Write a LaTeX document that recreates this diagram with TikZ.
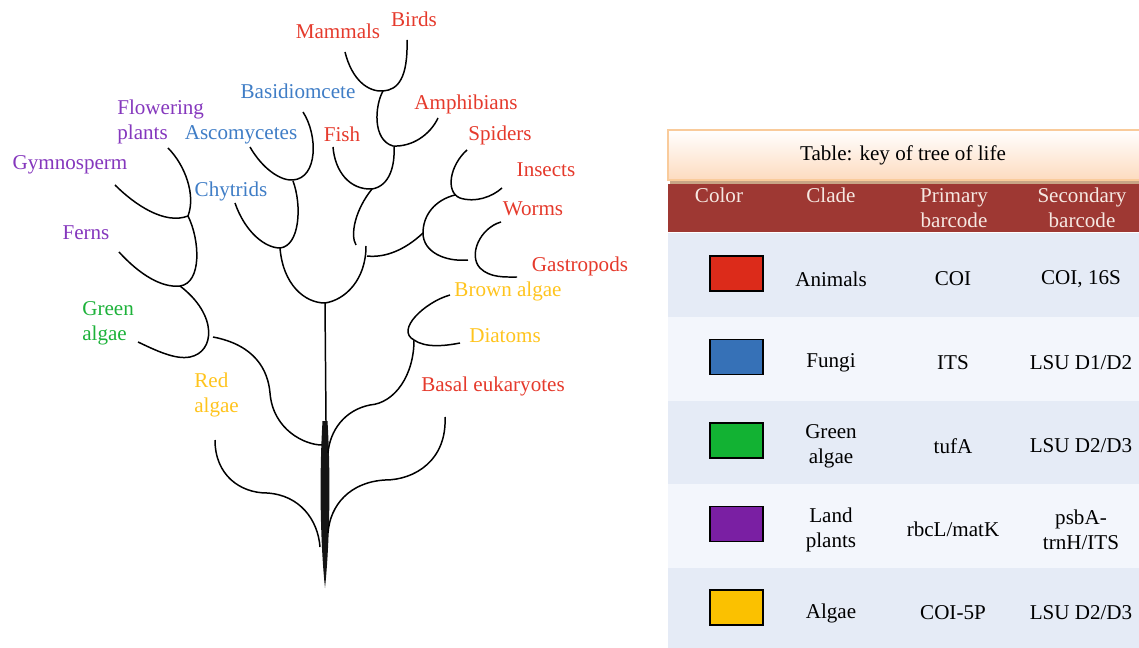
\documentclass[tikz,border=0pt]{standalone}
\usepackage{fontspec}
\setmainfont{Liberation Serif}
\usetikzlibrary{positioning}
\definecolor{treeRed}{HTML}{E53A2C}
\definecolor{treeBlue}{HTML}{3F7DC6}
\definecolor{treePurple}{HTML}{8537BD}
\definecolor{treeGreen}{HTML}{1DB23A}
\definecolor{treeYellow}{HTML}{FFC41E}
\definecolor{keyRed}{HTML}{DC2B1A}
\definecolor{keyBlue}{HTML}{3671B7}
\definecolor{keyGreen}{HTML}{12B233}
\definecolor{keyPurple}{HTML}{7A1FA3}
\definecolor{keyYellow}{HTML}{FBC100}
\definecolor{headRed}{HTML}{9E3833}
\definecolor{headText}{HTML}{F6E8E2}
\definecolor{rowDark}{HTML}{E5EBF6}
\definecolor{rowLight}{HTML}{F3F6FC}
\definecolor{titleEdge}{HTML}{F9CB9B}
\definecolor{titleFill}{HTML}{FDDBBF}
\definecolor{titleShadow}{HTML}{C9A585}
\newcommand{\treefont}{\fontsize{12}{14.2}\selectfont}
\tikzset{
  branch/.style   = {line width=0.85pt, black},
  lbl/.style      = {font=\treefont, inner sep=0pt},
  twolbl/.style   = {lbl, align=left, anchor=west},
  swatch/.style   = {draw=black, line width=0.8pt, minimum width=53*0.02cm,
                     minimum height=35*0.02cm, inner sep=0pt},
  cell/.style     = {font=\treefont, inner sep=0pt, align=center},
  headcell/.style = {cell, headText, anchor=north},
}

\begin{document}
\begin{tikzpicture}[x=0.02cm, y=-0.02cm]
  \useasboundingbox (0,0) rectangle (1139,648);
  % trunk
  \fill[black!92] (322.5,421) .. controls (319,480) and (320.5,545) .. (325,588)
                  .. controls (329.5,545) and (331,480) .. (327.5,421) -- cycle;
  \draw[branch] (325,303) -- (326,421);
  % land plants and green algae
  \draw[branch] (115,185) .. controls (135,205) and (165,225) .. (188,216)
                .. controls (196,195) and (185,165) .. (168,148);
  \draw[branch] (119,252) .. controls (140,275) and (162,288) .. (180,286)
                .. controls (202,283) and (200,240) .. (188,216);
  \draw[branch] (138,342) .. controls (155,350) and (175,360) .. (190,357)
                .. controls (215,352) and (218,315) .. (180,286);
  \draw[branch] (213,337) .. controls (255,345) and (268,370) .. (270,393)
                .. controls (273,430) and (305,445) .. (322,445);
  % red algae
  \draw[branch] (215,440) .. controls (215,475) and (240,493) .. (267,493)
                .. controls (300,495) and (318,520) .. (320,547);
  % fungi
  \draw[branch] (250,147) .. controls (262,168) and (280,181) .. (293,180)
                .. controls (318,178) and (318,135) .. (303,112);
  \draw[branch] (235,203) .. controls (245,232) and (265,248) .. (280,248)
                .. controls (300,246) and (302,205) .. (293,181);
  \draw[branch] (280,248) .. controls (283,285) and (305,303) .. (325,303);
  % vertebrates
  \draw[branch] (345,52) .. controls (352,80) and (368,92) .. (383,91)
                .. controls (398,90) and (408,78) .. (407,40);
  \draw[branch] (383,91) .. controls (375,105) and (372,140) .. (393,146)
                .. controls (412,147) and (430,135) .. (438,118);
  \draw[branch] (333,147) .. controls (335,172) and (350,190) .. (372,189)
                .. controls (390,186) and (395,165) .. (394,147);
  \draw[branch] (372,189) .. controls (355,210) and (350,235) .. (356,245);
  \draw[branch] (325,303) .. controls (345,300) and (366,280) .. (366,246);
  % invertebrates
  \draw[branch] (367,256) .. controls (385,258) and (405,250) .. (423,233);
  \draw[branch] (467,150) .. controls (450,165) and (445,192) .. (460,198)
                .. controls (475,203) and (492,197) .. (502,188);
  \draw[branch] (455,195) .. controls (435,200) and (423,215) .. (423,233)
                .. controls (423,252) and (445,262) .. (468,260);
  \draw[branch] (501,222) .. controls (480,228) and (468,255) .. (480,268)
                .. controls (490,278) and (505,277) .. (517,277);
  % stramenopiles and basal
  \draw[branch] (450,295) .. controls (425,302) and (395,330) .. (414,340)
                .. controls (425,348) and (445,346) .. (460,343);
  \draw[branch] (414,340) .. controls (414,375) and (395,403) .. (370,405)
                .. controls (345,410) and (330,430) .. (328,453);
  \draw[branch] (445,417) .. controls (447,460) and (415,480) .. (385,480)
                .. controls (350,482) and (330,505) .. (328,533);
  % tree labels
  \node[lbl, treeRed] (mammals) at (338,31) {Mammals};
  \node[lbl, treeRed] (birds) at (414,19) {Birds};
  \node[lbl, treeRed] (amphib) at (466,104) {Amphibians};
  \node[lbl, treeRed] (fish) at (342,134) {Fish};
  \node[lbl, treeRed] (spiders) at (500,135) {Spiders};
  \node[lbl, treeRed] (insects) at (546,170) {Insects};
  \node[lbl, treeRed] (worms) at (533,209) {Worms};
  \node[lbl, treeRed] (gastro) at (580,266) {Gastropods};
  \node[lbl, treeRed] (basal) at (493,386) {Basal eukaryotes};
  \node[lbl, treeBlue] (basidio) at (298,91) {Basidiomcete};
  \node[lbl, treeBlue] (asco) at (241,135) {Ascomycetes};
  \node[lbl, treeBlue] (chytrids) at (231,191) {Chytrids};
  \node[twolbl, treePurple] (flower) at (117,122) {Flowering\\plants};
  \node[lbl, treePurple] (gymno) at (70,165) {Gymnosperm};
  \node[lbl, treePurple] (ferns) at (86,233) {Ferns};
  \node[twolbl, treeGreen] (greenalg) at (82,323) {Green\\algae};
  \node[twolbl, treeYellow] (redalg) at (194,395) {Red\\algae};
  \node[lbl, treeYellow] (brown) at (508,291) {Brown algae};
  \node[lbl, treeYellow] (diatoms) at (505,336) {Diatoms};
  % key table
  \fill[titleShadow] (670,178) rectangle (1139,184);
  \shade[top color=white, bottom color=titleFill, draw=titleEdge, line width=0.8pt]
    (668,130) rectangle (1142,180);
  \node[cell] (title) at (903,155) {Table: key of tree of life};
  \fill[headRed] (668,184) rectangle (1139,232);
  \node[headcell] (hcolor) at (719,188) {Color};
  \node[headcell] (hclade) at (831,188) {Clade};
  \node[headcell] (hprim) at (954,188) {Primary\\barcode};
  \node[headcell] (hsec) at (1082,188) {Secondary\\barcode};
  \foreach \sw/\clade/\prim/\sec/\band [count=\n] in
    {keyRed/Animals/COI/{COI, 16S}/rowDark,
     keyBlue/Fungi/ITS/{LSU D1/D2}/rowLight,
     keyGreen/{Green\\algae}/tufA/{LSU D2/D3}/rowDark,
     keyPurple/{Land\\plants}/{rbcL/matK}/{psbA-\\trnH/ITS}/rowLight,
     keyYellow/Algae/COI-5P/{LSU D2/D3}/rowDark} {
    \fill[\band] (668,{150+83.5*\n}) rectangle (1139,{233.5+83.5*\n});
    \node[swatch, fill=\sw] (sw\n) at (736.5,{190+83.5*\n}) {};
    \node[cell] (clade\n) at (831,{195.5+83.5*\n}) {\clade};
    \node[cell] (prim\n) at (953,{195.5+83.5*\n}) {\prim};
    \node[cell] (sec\n) at (1081,{195.5+83.5*\n}) {\sec};
  }
\end{tikzpicture}
\end{document}
